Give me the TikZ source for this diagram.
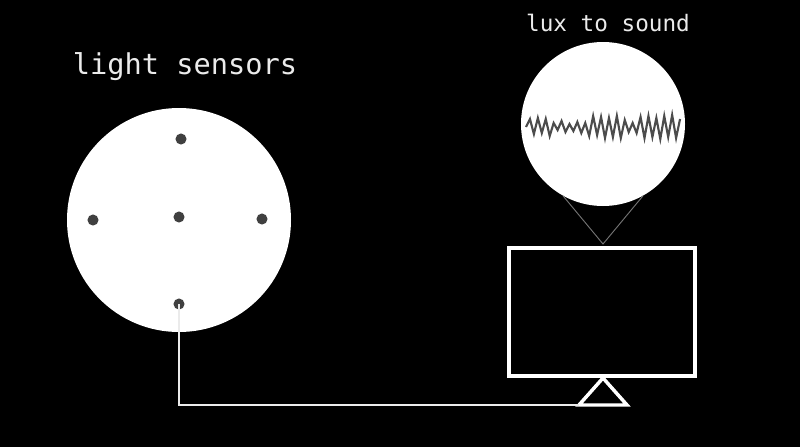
\documentclass[tikz,border=0pt]{standalone}
\usepackage{fontspec}
\setmonofont{DejaVu Sans Mono}
\usepackage{tikz}

\tikzset{
  disc/.style = {circle, fill=white, inner sep=0pt, minimum size=#1},
  sensor/.style = {circle, fill=black!75, inner sep=0pt, minimum size=8.3},
  caption/.style = {text=white!92!black, font=\ttfamily},
  wire/.style = {draw=white!92!black, line width=2.2pt},
  frame/.style = {draw=white, line width=3pt},
  wave/.style = {draw=black!70, line width=1.6pt, line join=miter},
  pointer/.style = {draw=black!55, line width=0.7pt}
}

\begin{document}
\begin{tikzpicture}[x=0.75pt, y=-0.75pt]

\fill[black] (0,0) rectangle (800,447);
\useasboundingbox (0,0) rectangle (800,447);

% sensor disc
\node [disc=168] (sensors) at (179,220) {};
\node [caption, font=\ttfamily\fontsize{21.5}{24}\selectfont] (sensorlabel) at (185,67) {light sensors};

\node [sensor] (top)    at (181,139) {};
\node [sensor] (left)   at (93,220)  {};
\node [sensor] (middle) at (179,217) {};
\node [sensor] (right)  at (262,219) {};
\node [sensor] (bottom) at (179,304) {};

% monitor
\node [frame, minimum width=140, minimum height=96, inner sep=0pt] (screen) at (602,311.5) {};
\coordinate (apex) at (603,378);
\coordinate (baseleft) at (579,405);
\coordinate (baseright) at (627,405);
\draw [frame, line width=2.6pt, line join=miter] (baseleft) -- (apex) -- (baseright) -- cycle;

% wire from sensor to stand
\draw [wire] (bottom.center) -- (bottom.center |- baseleft) -- (baseleft);

% zoom bubble
\node [disc=123] (sound) at (603,124) {};
\node [caption, font=\ttfamily\fontsize{17}{20}\selectfont] (soundlabel) at (608,23) {lux to sound};
\coordinate (tip) at (603,244);
\draw [pointer] (sound.-119) -- (tip) -- (sound.-61);

\draw [wave] (526,127)
  \foreach \dy [count=\i] in {-8,7,-9,6,-8,9,-4,3,-6,5,-3,4,-5,6,-4,9,-11,8,-10,11,-9,10,-11,11,-7,5,-4,6,-10,11,-11,10,-9,12,-11,10,-12,11,-8}
    { -- ({526+3.95*\i},{127+\dy}) };

\end{tikzpicture}
\end{document}
